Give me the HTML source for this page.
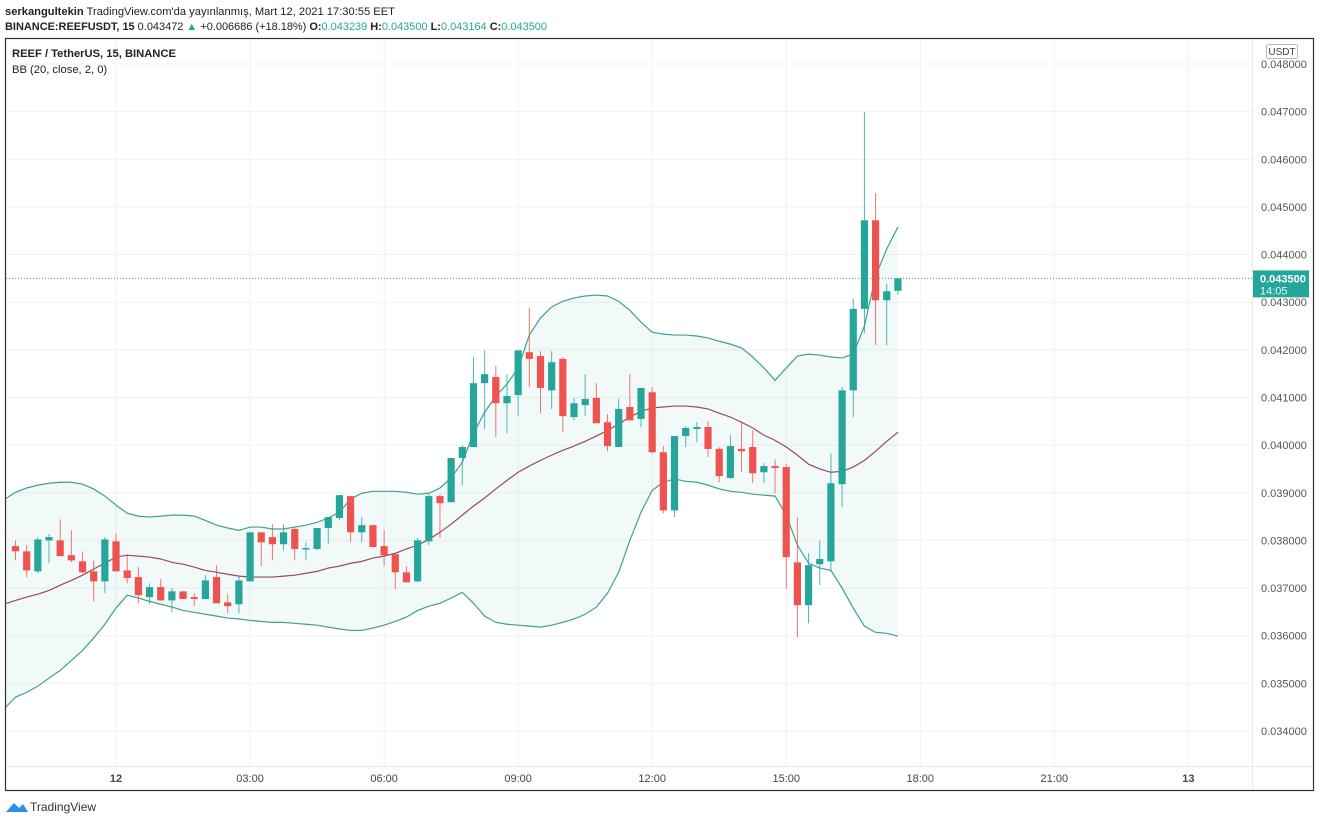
<!DOCTYPE html>
<html><head><meta charset="utf-8"><style>
body{margin:0;background:#fff;width:1320px;height:824px;overflow:hidden;font-family:"Liberation Sans",sans-serif}
svg text{font-family:"Liberation Sans",sans-serif}
</style></head><body>
<svg id="chart" width="1320" height="824" xmlns="http://www.w3.org/2000/svg">
<g>
<text x="5" y="15" font-size="11.2" fill="#222" textLength="390" lengthAdjust="spacingAndGlyphs"><tspan font-weight="bold">serkangultekin</tspan> TradingView.com'da yayınlanmış, Mart 12, 2021 17:30:55 EET</text>
<text x="5" y="30" font-size="10.8" fill="#222" textLength="542" lengthAdjust="spacingAndGlyphs"><tspan font-weight="bold">BINANCE:REEFUSDT, 15</tspan> 0.043472 <tspan fill="#26a69a">▲</tspan> +0.006686 (+18.18%) <tspan font-weight="bold">O:</tspan><tspan fill="#26a69a">0.043239</tspan> <tspan font-weight="bold">H:</tspan><tspan fill="#26a69a">0.043500</tspan> <tspan font-weight="bold">L:</tspan><tspan fill="#26a69a">0.043164</tspan> <tspan font-weight="bold">C:</tspan><tspan fill="#26a69a">0.043500</tspan></text>
</g>
<defs><clipPath id="pane"><rect x="6" y="39" width="1246" height="727"/></clipPath></defs>
<g id="grid"></g>
<g id="bands" clip-path="url(#pane)"></g>
<g id="candles" clip-path="url(#pane)"></g>
<g id="axes"></g>
<rect x="5.5" y="38.5" width="1308" height="752" fill="none" stroke="#333" stroke-width="1.2"/>
<g>
<text x="12" y="57" font-size="11.2" font-weight="bold" fill="#222">REEF / TetherUS, 15, BINANCE</text>
<text x="12" y="73" font-size="11.2" fill="#222">BB (20, close, 2, 0)</text>
</g>
<g><rect x="1266.5" y="44.5" width="31" height="14" rx="2" fill="#fff" stroke="#bbb"/><text x="1282" y="55" font-size="10" fill="#444" text-anchor="middle">USDT</text></g>
<g>
<path d="M6 812 L14 803 L19 808 L23 804 L28 812 Z" fill="#2f8ee5"/>
<text x="30" y="811" font-size="12" fill="#333">TradingView</text></g>
</svg>
<script>
const open_=[3788,3777,3735,3800,3800,3769,3756,3735,3714,3798,3737,3723,3681,3702,3674,3693,3681,3677,3723,3670,3666,3714,3817,3807,3792,3824,3782,3782,3826,3847,3893,3817,3832,3788,3771,3733,3714,3798,3893,3880,3973,3996,4130,4143,4088,4105,4195,4187,4115,4181,4059,4084,4099,4048,3996,4080,4055,4111,3985,3863,4019,4034,4038,3992,3931,3992,3996,3943,3956,3954,3754,3664,3750,3756,3918,4115,4286,4472,4304,4324];
const high=[3800,3790,3807,3813,3844,3821,3777,3758,3807,3815,3771,3744,3710,3719,3700,3693,3689,3727,3748,3687,3727,3817,3817,3834,3834,3828,3796,3826,3849,3895,3893,3849,3832,3821,3771,3746,3805,3897,3897,3973,4000,4185,4199,4166,4149,4199,4288,4197,4197,4185,4099,4149,4130,4065,4097,4149,4120,4122,3998,4019,4040,4048,4050,3996,4021,4050,4031,3962,3970,3960,3849,3773,3800,3983,4122,4307,4699,4529,4338,4350];
const low=[3758,3723,3731,3752,3767,3754,3731,3672,3689,3735,3710,3668,3666,3674,3649,3677,3662,3677,3668,3647,3647,3714,3746,3758,3779,3758,3758,3779,3792,3842,3796,3796,3786,3746,3698,3712,3712,3790,3805,3880,3916,3996,4034,4017,4025,4061,4122,4067,4076,4027,4052,4061,4046,3987,3996,4052,4038,3983,3857,3849,3996,4006,3975,3922,3929,3943,3920,3920,3899,3698,3597,3626,3706,3735,3870,4059,4235,4210,4210,4316];
const close=[3777,3737,3802,3807,3767,3758,3733,3714,3802,3735,3721,3685,3702,3674,3693,3677,3677,3716,3668,3662,3716,3817,3796,3792,3817,3782,3784,3826,3849,3895,3817,3832,3786,3769,3733,3712,3800,3893,3878,3973,3996,4130,4149,4088,4103,4199,4181,4120,4174,4061,4088,4097,4046,3998,4076,4052,4120,3985,3863,4019,4036,4038,3992,3935,3998,3987,3941,3956,3952,3765,3664,3748,3761,3920,4115,4286,4472,4304,4323,4350];
const bbUpper=[3901,3910,3916,3920,3922,3922,3918,3908,3893,3874,3857,3851,3849,3851,3853,3853,3851,3842,3832,3826,3821,3828,3828,3824,3824,3828,3832,3838,3847,3859,3887,3899,3903,3903,3903,3901,3897,3899,3910,3931,3964,4025,4069,4103,4128,4162,4231,4267,4290,4302,4309,4313,4315,4313,4302,4283,4258,4237,4233,4231,4231,4229,4225,4218,4212,4204,4185,4162,4136,4162,4187,4191,4189,4185,4183,4191,4250,4355,4412,4458];
const bbBasis=[3674,3681,3687,3695,3706,3716,3727,3740,3752,3765,3769,3767,3765,3761,3754,3750,3744,3737,3733,3729,3725,3723,3723,3723,3725,3727,3731,3735,3742,3746,3752,3756,3763,3767,3773,3782,3790,3802,3817,3834,3853,3872,3889,3908,3926,3943,3956,3968,3979,3989,3998,4008,4019,4031,4044,4059,4071,4078,4080,4082,4082,4080,4076,4067,4059,4048,4036,4021,4010,3996,3979,3960,3950,3943,3945,3954,3968,3987,4008,4027];
const bbLower=[3471,3481,3494,3511,3527,3548,3569,3595,3624,3658,3685,3679,3672,3666,3660,3653,3649,3645,3641,3637,3635,3632,3630,3628,3628,3626,3624,3622,3618,3614,3611,3611,3616,3622,3630,3639,3653,3662,3668,3679,3691,3668,3641,3628,3624,3622,3620,3618,3622,3628,3635,3645,3660,3689,3733,3800,3859,3905,3922,3929,3924,3922,3916,3908,3903,3901,3897,3895,3893,3853,3790,3752,3742,3737,3700,3658,3620,3607,3605,3599];
const priceTicks=[4800,4700,4600,4500,4400,4300,4200,4100,4000,3900,3800,3700,3600,3500,3400];
const timeTicks=["12","03:00","06:00","09:00","12:00","15:00","18:00","21:00","13"];
const timeTickIndex=[9,21,33,45,57,69,81,93,105];
const lastPrice=4350;
const NS="http://www.w3.org/2000/svg";
function yS(v){return 64+(4800-v)*0.4764;}
function xS(i){return 15.5+i*11.17;}
function mk(tag,attrs,parent){const e=document.createElementNS(NS,tag);for(const k in attrs)e.setAttribute(k,attrs[k]);parent.appendChild(e);return e;}
const grid=document.getElementById('grid'),axes=document.getElementById('axes'),bands=document.getElementById('bands'),cg=document.getElementById('candles');
priceTicks.forEach(v=>{
 const gl=mk('line',{x1:6,x2:1252,y1:yS(v),y2:yS(v),stroke:'#f0f1f4','stroke-width':1},grid);
 
 
 const t=mk('text',{x:1261,y:yS(v)+4,'font-size':11,fill:'#555'},axes);
 t.textContent=(v/100000).toFixed(6);
 
 
});
timeTicks.forEach((s,k)=>{
 const x=xS(timeTickIndex[k]);
 const gl=mk('line',{x1:x,x2:x,y1:39,y2:766,stroke:'#f0f1f4','stroke-width':1},grid);
 
 
 const t=mk('text',{x:x,y:782,'font-size':11,fill:'#444','text-anchor':'middle','font-weight':(s.length<3?'bold':'normal')},axes);
 t.textContent=s;
 
 
});
const sepH=mk('line',{x1:6,x2:1313,y1:766.5,y2:766.5,stroke:'#e8e8ea'},axes);


const sepV=mk('line',{x1:1252.5,x2:1252.5,y1:39,y2:790,stroke:'#e8e8ea'},axes);


let up=bbUpper.map((v,i)=>[xS(i),yS(v)]);
let lo=bbLower.map((v,i)=>[xS(i),yS(v)]);
up.unshift([0,yS(bbUpper[0])+10]);lo.unshift([0,yS(bbLower[0])+16]);
const mid=bbBasis.map((v,i)=>[xS(i),yS(v)]);mid.unshift([0,yS(bbBasis[0])+5]);
const fill=mk('polygon',{points:up.concat(lo.slice().reverse()).map(p=>p.join(',')).join(' '),fill:'#26a69a','fill-opacity':0.06},bands);


const pu=mk('polyline',{points:up.map(p=>p.join(',')).join(' '),fill:'none',stroke:'#3fa091','stroke-width':1.2},bands);


const pl=mk('polyline',{points:lo.map(p=>p.join(',')).join(' '),fill:'none',stroke:'#3fa091','stroke-width':1.2},bands);


const pm=mk('polyline',{points:mid.map(p=>p.join(',')).join(' '),fill:'none',stroke:'#9a4a55','stroke-width':1.2},bands);


open_.forEach((o,i)=>{
 const c=close[i],up_=c>=o,col=up_?'#26a69a':'#ef5350',x=xS(i);
 const g=mk('g',{},cg);
 
 
 mk('line',{x1:x,x2:x,y1:yS(high[i]),y2:yS(low[i]),stroke:col,'stroke-width':1,'stroke-opacity':0.8},g);
 const t=yS(Math.max(o,c)),b=yS(Math.min(o,c));
 mk('rect',{x:x-3.6,y:t,width:7.2,height:Math.max(1.5,b-t),fill:col},g);
});
const ly=yS(lastPrice);
const dl=mk('line',{x1:6,x2:1252,y1:ly,y2:ly,stroke:'#26a69a','stroke-dasharray':'1,2','stroke-width':1},axes);


const lb=mk('g',{},axes);


mk('rect',{x:1253,y:ly-8,width:56,height:27,fill:'#26a69a'},lb);
const t1=mk('text',{x:1260,y:ly+4,'font-size':11,fill:'#fff','font-weight':'bold'},lb);t1.textContent=(lastPrice/100000).toFixed(6);
const t2=mk('text',{x:1260,y:ly+16,'font-size':11,fill:'#e6f5f3'},lb);t2.textContent='14:05';
</script>
</body></html>
